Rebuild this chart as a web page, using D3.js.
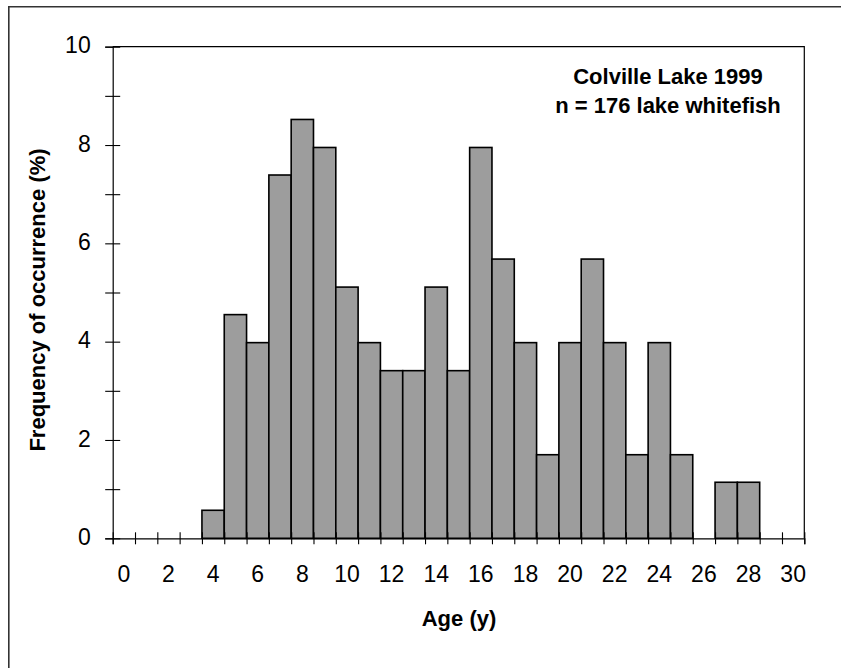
<!DOCTYPE html>
<html>
<head>
<meta charset="utf-8">
<script src="https://cdn.jsdelivr.net/npm/d3@7/dist/d3.min.js"></script>
<style>
  html, body { margin: 0; padding: 0; background: #fff; }
  svg { display: block; }
  text { font-family: "Liberation Sans", Arial, sans-serif; fill: #000; }
</style>
</head>
<body>
<svg id="chart" width="841" height="668"></svg>
<script>
// Age classes (years) shown on the axis
const ages = d3.range(0, 31);
// Frequency of occurrence (%) per age class, n = 176 fish
const barAges = [4, 5, 6, 7, 8, 9, 10, 11, 12, 13, 14, 15, 16, 17, 18, 19, 20, 21, 22, 23, 24, 25, 26, 27, 28];
const freqPct = [0.57, 4.55, 3.98, 7.39, 8.52, 7.95, 5.11, 3.98, 3.41, 3.41, 5.11, 3.41, 7.95, 5.68, 3.98, 1.70, 3.98, 5.68, 3.98, 1.70, 3.98, 1.70, 0, 1.14, 1.14];
// Axis labelling
const xTickLabels = d3.range(0, 31, 2);
const yTickValues = d3.range(0, 11, 1);
const yLabelValues = d3.range(0, 11, 2);
const titleLines = ["Colville Lake 1999", "n = 176 lake whitefish"];

const svg = d3.select("#chart");
const plotLeft = 112.7, plotRight = 804.3, plotTop = 46.7, plotBottom = 538.3;

const x = d3.scaleBand().domain(ages).range([plotLeft, plotRight]).padding(0);
const xEdge = d3.scaleLinear().domain([0, ages.length]).range([plotLeft, plotRight]);
const y = d3.scaleLinear().domain([0, 10]).range([plotBottom, plotTop]);

// outer frame (left and top edges only visible)
svg.append("path")
  .attr("d", `M8.8,${668 + 5} L8.8,6.8 L${841 + 5},6.8`)
  .attr("fill", "none").attr("stroke", "#333").attr("stroke-width", 1.6);

// plot area box: top and right edges
svg.append("path")
  .attr("d", `M${plotLeft},${plotTop} L${plotRight},${plotTop} L${plotRight},${plotBottom}`)
  .attr("fill", "none").attr("stroke", "#000").attr("stroke-width", 1.2);

// bars
const bars = barAges.map((a, i) => ({ age: a, v: freqPct[i] })).filter(d => d.v > 0);
svg.append("g").selectAll("rect").data(bars).join("rect")
  .attr("x", d => x(d.age))
  .attr("width", x.bandwidth())
  .attr("y", d => y(d.v))
  .attr("height", d => y(0) - y(d.v))
  .attr("fill", "#9d9d9d")
  .attr("stroke", "#000")
  .attr("stroke-width", 1.6);

// x axis: cross ticks at class boundaries
const gx = svg.append("g").attr("transform", `translate(0,${plotBottom})`)
  .call(d3.axisBottom(xEdge).tickValues(d3.range(0, ages.length + 1)).tickSize(6).tickFormat(""));
gx.select(".domain").attr("stroke", "#000").attr("stroke-width", 1.2);
gx.selectAll(".tick line").attr("y1", -6).attr("y2", 6).attr("stroke", "#000").attr("stroke-width", 1.1);

// x labels at class centres
const gxl = svg.append("g").attr("transform", `translate(0,${plotBottom})`)
  .call(d3.axisBottom(x).tickValues(xTickLabels).tickSize(0).tickPadding(0));
gxl.select(".domain").remove();
gxl.selectAll(".tick text")
  .attr("y", 44).attr("dy", 0)
  .style("font-size", "23px")
  .style("font-family", "'Liberation Sans', Arial, sans-serif")
  .attr("fill", "#000");

// y axis with cross ticks
const gy = svg.append("g").attr("transform", `translate(${plotLeft},0)`)
  .call(d3.axisLeft(y).tickValues(yTickValues).tickSize(7.5)
    .tickFormat(d => yLabelValues.includes(d) ? d3.format("d")(d) : ""));
gy.select(".domain").attr("stroke", "#000").attr("stroke-width", 1.2);
gy.selectAll(".tick line").attr("x1", -7.5).attr("x2", 7.5).attr("stroke", "#000").attr("stroke-width", 1.1);
gy.selectAll(".tick text")
  .attr("x", -22).attr("dy", "0.27em")
  .style("font-size", "23px")
  .style("font-family", "'Liberation Sans', Arial, sans-serif")
  .attr("fill", "#000");

// axis titles
svg.append("text")
  .attr("x", 459).attr("y", 626)
  .attr("text-anchor", "middle")
  .style("font-size", "22px").style("font-weight", "bold")
  .text("Age (y)");

svg.append("text")
  .attr("transform", "translate(44.5,300) rotate(-90)")
  .attr("text-anchor", "middle")
  .style("font-size", "22px").style("font-weight", "bold")
  .text("Frequency of occurrence (%)");

// in-plot caption
svg.append("g").selectAll("text").data(titleLines).join("text")
  .attr("x", 668)
  .attr("y", (d, i) => 84 + i * 29.3)
  .attr("text-anchor", "middle")
  .style("font-size", "22px").style("font-weight", "bold")
  .text(d => d);
</script>
</body>
</html>
